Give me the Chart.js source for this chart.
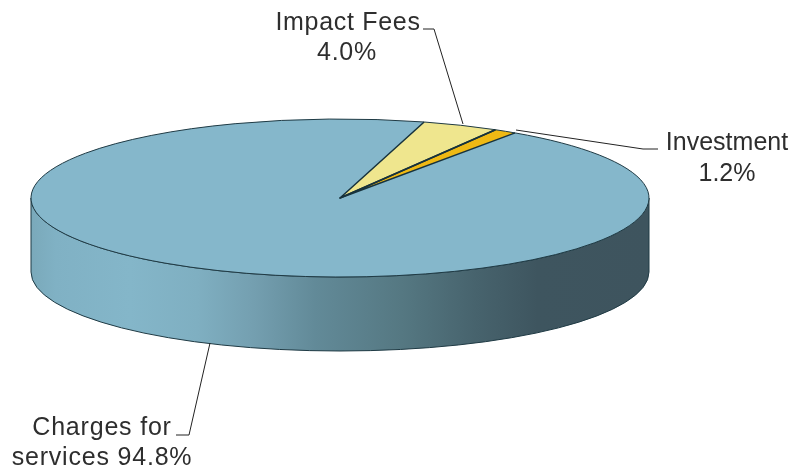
<!DOCTYPE html>
<html>
<head>
<meta charset="utf-8">
<style>html,body{margin:0;padding:0;background:#fff}canvas{display:block}</style>
<script src="https://cdn.jsdelivr.net/npm/chart.js@4"></script>
</head>
<body>
<canvas id="c" width="793" height="470"></canvas>
<script>
const categories = ["Impact Fees", "Investment", "Charges for services"];
const shares = [4.0, 1.2, 94.8];
const sliceColors = ["#EFE68E", "#EFB914", "#85B7CB"];
const labelLines = [["Impact Fees", "4.0%"], ["Investment", "1.2%"], ["Charges for", "services 94.8%"]];

const view = { cx: 340, cy: 198, rx: 309, ry: 79, depth: 74 };
const textPos = [
  [[348, 30], [347, 60]],
  [[727, 150], [727, 181]],
  [[102, 435], [102, 465]]
];
const textSpacing = ["0.7px", "0px", "0.8px"];
const leaders = [
  [[423, 29], [434, 29], [463, 124]],
  [[516, 130], [643, 149], [658, 149]],
  [[210, 343], [189, 435], [176, 435]]
];

function toView(ctx, a) {
  ctx.translate(view.cx, view.cy);
  ctx.scale(view.rx / a.outerRadius, view.ry / a.outerRadius);
  ctx.translate(-a.x, -a.y);
}

const pie3d = {
  id: "pie3d",
  beforeDatasetsDraw(chart) {
    const ctx = chart.ctx, v = view;
    const g = ctx.createLinearGradient(v.cx - v.rx, 0, v.cx + v.rx, 0);
    [[0, "#7AA9BA"], [0.04, "#80B1C4"], [0.16, "#84B6C9"], [0.27, "#7FAFC1"],
     [0.36, "#749FB0"], [0.46, "#628A98"], [0.6, "#557882"], [0.72, "#47636D"],
     [0.82, "#3E555F"], [1, "#3E545E"]].forEach(s => g.addColorStop(s[0], s[1]));
    ctx.save();
    ctx.beginPath();
    ctx.ellipse(v.cx, v.cy, v.rx, v.ry, 0, Math.PI, 0, true);
    ctx.lineTo(v.cx + v.rx, v.cy + v.depth);
    ctx.ellipse(v.cx, v.cy + v.depth, v.rx, v.ry, 0, 0, Math.PI, false);
    ctx.closePath();
    ctx.fillStyle = g;
    ctx.fill();
    ctx.strokeStyle = "#1F3A44";
    ctx.lineWidth = 1;
    ctx.stroke();
    ctx.restore();

    ctx.save();
    toView(ctx, chart.getDatasetMeta(0).data[0]);
  },
  afterDatasetsDraw(chart) {
    const ctx = chart.ctx;
    ctx.restore();
    const arcs = chart.getDatasetMeta(0).data;
    ctx.save();
    ctx.strokeStyle = "#1F3A44";
    ctx.lineJoin = "round";
    arcs.forEach((a, i) => {
      ctx.save();
      toView(ctx, a);
      ctx.beginPath();
      ctx.arc(a.x, a.y, a.outerRadius, a.startAngle, a.endAngle);
      ctx.restore();
      ctx.lineWidth = 1;
      ctx.stroke();
      if (i < 2) {
        ctx.save();
        toView(ctx, a);
        ctx.beginPath();
        ctx.arc(a.x, a.y, a.outerRadius, a.startAngle, a.startAngle);
        ctx.lineTo(a.x, a.y);
        ctx.arc(a.x, a.y, a.outerRadius, a.endAngle, a.endAngle);
        ctx.restore();
        ctx.lineWidth = 1.5;
        ctx.strokeStyle = "#17323C";
        ctx.stroke();
        ctx.strokeStyle = "#1F3A44";
      }
    });
    ctx.strokeStyle = "#222";
    ctx.lineWidth = 1;
    leaders.forEach(l => {
      ctx.beginPath();
      l.forEach((p, i) => i ? ctx.lineTo(p[0], p[1]) : ctx.moveTo(p[0], p[1]));
      ctx.stroke();
    });
    ctx.fillStyle = "#2E2E2E";
    ctx.font = '25px "Liberation Sans", Arial, sans-serif';
    ctx.textAlign = "center";
    ctx.textBaseline = "alphabetic";
    labelLines.forEach((lines, i) => lines.forEach((t, j) => {
      ctx.letterSpacing = textSpacing[i];
      ctx.fillText(t, textPos[i][j][0], textPos[i][j][1]);
    }));
    ctx.restore();
  }
};

new Chart(document.getElementById("c"), {
  type: "pie",
  data: {
    labels: categories,
    datasets: [{ data: shares, backgroundColor: sliceColors, borderWidth: 0 }]
  },
  options: {
    responsive: false,
    animation: false,
    rotation: 15.8,
    layout: { padding: 0 },
    plugins: { legend: { display: false }, tooltip: { enabled: false } }
  },
  plugins: [pie3d]
});
</script>
</body>
</html>
